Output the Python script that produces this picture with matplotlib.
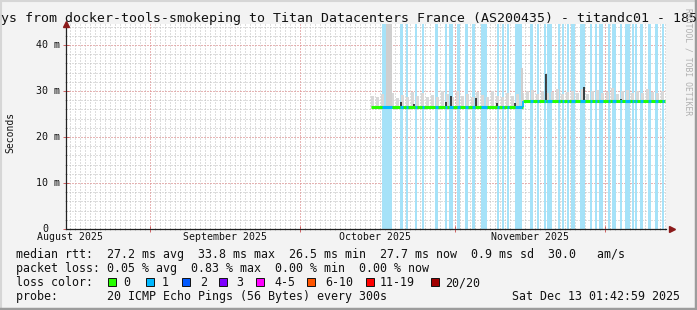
import numpy as np
import matplotlib.pyplot as plt
from matplotlib.patches import Rectangle
from matplotlib.lines import Line2D

W, H = 697, 310
MONO = "DejaVu Sans Mono"

# x axis in days counted from 1 Sep 2025
month_starts = [0, 30, 61, 91]
month_label_days = [-16, 15, 45, 76]
month_labels = ["August 2025", "September 2025", "October 2025", "November 2025"]

y_ticks = [0, 10, 20, 30, 40]
y_labels = ["0", "10 m", "20 m", "30 m", "40 m"]

# median rtt in ms, as flat steps between these days
median_edges = [44.2, 74.5, 103.0]
median_ms = [26.6, 27.8]

# smoke top (ms), one value per day starting at day 44
smoke_top = [29.0, 28.6, 29.4, 28.8, 29.6, 28.4, 29.2, 28.7, 29.8, 28.9,
             29.5, 28.6, 29.1, 28.8, 30.0, 29.3, 28.7, 29.9, 28.9, 29.4,
             28.6, 29.7, 29.2, 28.8, 30.1, 29.0, 28.7, 29.5, 28.9, 29.3,
             29.6, 29.9, 30.3, 29.4, 30.0, 29.5, 29.8, 30.4, 29.3, 29.7,
             30.1, 29.6, 30.5, 29.4, 29.9, 30.2, 29.5, 29.8, 30.6, 29.4,
             29.9, 30.3, 29.6, 30.0, 29.5, 30.4, 29.8, 29.6, 30.1]
smoke_first_day = 44

# tall smoke columns (start day, end day, top ms)
tall_smoke = [(47.2, 48.4, 44.6), (74.1, 74.6, 35.0)]

# dark spikes of the median
spike_days = [50.1, 52.8, 59.1, 60.1, 65.1, 69.3, 72.9, 79.2, 86.8, 94.1]
spike_tops = [27.6, 27.1, 27.6, 29.0, 28.5, 27.4, 27.4, 33.8, 30.9, 28.3]

# periods with packet loss (start day, end day)
loss_periods = [(46.4, 48.4), (50.0, 50.6), (51.2, 51.6), (53.0, 53.4), (54.4, 54.8),
                (57.0, 57.6), (59.0, 59.4), (59.8, 60.6), (61.4, 62.0), (63.0, 63.6),
                (64.4, 65.0), (66.2, 67.4), (69.4, 69.8), (70.4, 70.8), (71.4, 71.8),
                (73.0, 74.4), (76.0, 76.6), (77.4, 77.8), (78.8, 79.2), (79.4, 80.4),
                (81.6, 82.0), (82.4, 82.8), (83.4, 83.8), (84.2, 85.0), (86.0, 87.0),
                (88.0, 88.4), (89.0, 89.4), (89.8, 90.6), (91.6, 92.0), (92.4, 93.2),
                (94.0, 94.4), (95.0, 96.0), (96.4, 96.8), (97.0, 97.4), (98.0, 98.6),
                (99.6, 100.2), (101.0, 101.6), (102.4, 102.8)]

loss_names = ["0", "1", "2", "3", "4-5", "6-10", "11-19", "20/20"]
loss_colors = ["#26ff00", "#00b8ff", "#0059ff", "#7e00ff", "#ff00ff", "#ff5500", "#ff0000", "#a10000"]

legend_lines = [
    "median rtt:  27.2 ms avg  33.8 ms max  26.5 ms min  27.7 ms now  0.9 ms sd  30.0   am/s",
    "packet loss: 0.05 % avg  0.83 % max  0.00 % min  0.00 % now",
    "loss color:",
    "probe:       20 ICMP Echo Pings (56 Bytes) every 300s",
]
title = "120 Days from docker-tools-smokeping to Titan Datacenters France (AS200435) - titandc01 - 185"


def fx(x):
    return x / W


def fy(y):
    return 1 - y / H


fig = plt.figure(figsize=(W / 100, H / 100), dpi=100, facecolor="#f3f3f3")

# frame around the image
fig.add_artist(Line2D([0, 1], [fy(0.5), fy(0.5)], color="#d6d6d6", lw=1.5))
fig.add_artist(Line2D([fx(0.5), fx(0.5)], [0, 1], color="#d6d6d6", lw=1.5))
fig.add_artist(Line2D([0, 1], [fy(308.5), fy(308.5)], color="#9c9c9c", lw=2.5))
fig.add_artist(Line2D([fx(695.5), fx(695.5)], [0, 1], color="#9c9c9c", lw=2.5))

x0, x1 = 66, 666
y0, y1 = 229, 24
ax = fig.add_axes([fx(x0), fy(y0), (x1 - x0) / W, (y0 - y1) / H])
ax.set_facecolor("white")
xmin, xmax = (x0 - 150) / 5, (x1 - 150) / 5
ymax = (y0 - y1) / 4.6
ax.set_xlim(xmin, xmax)
ax.set_ylim(0, ymax)

# grid
for d in np.arange(np.ceil(xmin), xmax):
    ax.axvline(d, color="#bdbdbd", lw=0.72, ls=(0, (1, 2)), zorder=1)
for v in np.arange(2, ymax, 2):
    ax.axhline(v, color="#bdbdbd", lw=0.72, ls=(0, (1, 2)), zorder=1)
for d in month_starts:
    ax.axvline(d, color="#f08c8c", lw=0.72, ls=(0, (1, 2)), zorder=1.5)
for v in y_ticks[1:]:
    ax.axhline(v, color="#f08c8c", lw=0.72, ls=(0, (1, 2)), zorder=1.5)

# loss background bars
for a, b in loss_periods:
    ax.axvspan(a, b, color="#a6e2f8", lw=0, zorder=2)

# smoke
for i, top in enumerate(smoke_top):
    d = smoke_first_day + i
    base = median_ms[0] if d < median_edges[1] else median_ms[1]
    ax.bar(d + 0.5, top - base + 0.3, bottom=base - 0.3, width=0.5,
           color="#d8d8d8", lw=0, zorder=3)
for a, b, top in tall_smoke:
    ax.bar((a + b) / 2, top - 26.5, bottom=26.5, width=b - a,
           color="#cfcfcf", lw=0, zorder=3)

# spikes
for d, top in zip(spike_days, spike_tops):
    base = median_ms[0] if d < median_edges[1] else median_ms[1]
    ax.vlines(d, base, top, color="#111111", lw=1.1, zorder=4)

# median line, coloured by loss
for k, v in enumerate(median_ms):
    ax.hlines(v, median_edges[k], median_edges[k + 1], color=loss_colors[0], lw=2.2, zorder=5)
ax.vlines(median_edges[1], median_ms[0], median_ms[1], color=loss_colors[1], lw=1.2, zorder=5)
for a, b in loss_periods:
    for k, v in enumerate(median_ms):
        lo, hi = max(a, median_edges[k]), min(b, median_edges[k + 1])
        if lo < hi:
            ax.hlines(v, lo, hi, color=loss_colors[1], lw=2.2, zorder=5)

# axes
for s in ["top", "right"]:
    ax.spines[s].set_visible(False)
for s in ["left", "bottom"]:
    ax.spines[s].set_color("#222222")
    ax.spines[s].set_linewidth(0.9)
    ax.spines[s].set_zorder(6)
ax.set_xticks(month_starts)
ax.set_xticks(np.arange(np.ceil(xmin), xmax), minor=True)
ax.set_yticks(y_ticks)
ax.set_yticks(np.arange(0, ymax, 2), minor=True)
ax.tick_params(which="major", direction="inout", length=4, width=0.7, color="#d06060",
               labelbottom=False, labelleft=False)
ax.tick_params(which="minor", direction="inout", length=2, width=0.5, color="#999999")
ax.plot([xmin], [ymax], marker="^", color="#8b1a1a", ms=5, clip_on=False, zorder=7)
ax.plot([xmax + 1.2], [0], marker=">", color="#8b1a1a", ms=5, clip_on=False, zorder=7)

# tick labels
for d, lab in zip(month_label_days, month_labels):
    fig.text(fx(150 + 5 * d), fy(240.5), lab, ha="center", va="baseline",
             family=MONO, size=7.1, color="#111111")
label_right = [48, 60, 60, 60, 60]
for v, lab, xr in zip(y_ticks, y_labels, label_right):
    fig.text(fx(xr), fy(y0 - 4.6 * v + 3.3), lab, ha="right", va="baseline",
             family=MONO, size=7.2, color="#111111")
fig.text(fx(10), fy(132), "Seconds", rotation=90, ha="center", va="center",
         family=MONO, size=7.0, color="#111111")

# title, left part runs off the image
fig.text(fx(1 - 6 * 7.95), fy(22), title, ha="left", va="baseline",
         family=MONO, size=9.5, color="#111111")
fig.text(fx(688), fy(62), "RRDTOOL / TOBI OETIKER", rotation=270, ha="center", va="center",
         family=MONO, size=5.8, color="#b0b0b0")

# legend block
for i, line in enumerate(legend_lines):
    fig.text(fx(16), fy(258 + 14 * i), line, ha="left", va="baseline",
             family=MONO, size=8.4, color="#111111")
sq_left = [108, 146, 182, 219, 256, 307, 366, 431]
lab_left = [123, 162, 200, 236, 274, 325, 380, 445]
for name, col, sx, lx in zip(loss_names, loss_colors, sq_left, lab_left):
    fig.add_artist(Rectangle((fx(sx), fy(285.5)), 8 / W, 8 / H, facecolor=col,
                             edgecolor="#111111", lw=0.7))
    fig.text(fx(lx), fy(286), name, ha="left", va="baseline",
             family=MONO, size=8.4, color="#111111")
fig.text(fx(680), fy(300), "Sat Dec 13 01:42:59 2025", ha="right", va="baseline",
         family=MONO, size=8.4, color="#111111")

fig.savefig("out.png", dpi=100, facecolor=fig.get_facecolor())
